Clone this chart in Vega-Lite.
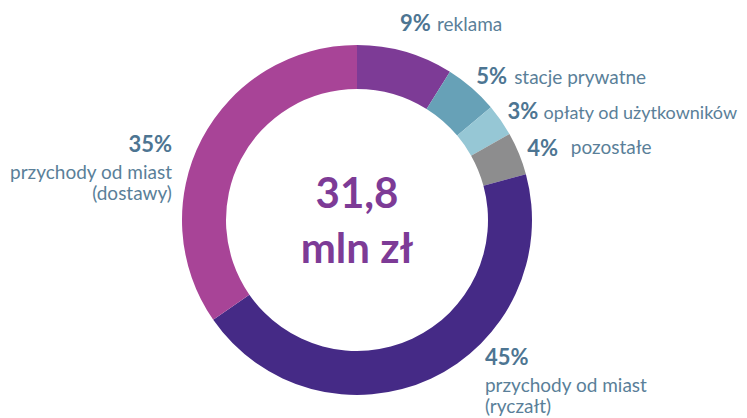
{
  "$schema": "https://vega.github.io/schema/vega-lite/v6.json",
  "autosize": "none",
  "width": 714,
  "height": 396,
  "padding": {"left": 0, "top": 22, "right": 33, "bottom": 0},
  "background": "white",
  "config": {"view": {"stroke": null}},
  "data": {
    "values": [
      {"i": 1, "k": "reklama", "v": 9, "pct": "9%", "label": "reklama"},
      {"i": 2, "k": "stacje prywatne", "v": 5, "pct": "5%", "label": "stacje prywatne"},
      {"i": 3, "k": "opłaty od użytkowników", "v": 3, "pct": "3%", "label": "opłaty od użytkowników"},
      {"i": 4, "k": "pozostałe", "v": 4, "pct": "4%", "label": "pozostałe"},
      {"i": 5, "k": "przychody od miast (ryczałt)", "v": 45, "pct": "45%", "label": "przychody od miast\n(ryczałt)"},
      {"i": 6, "k": "przychody od miast (dostawy)", "v": 35, "pct": "35%", "label": "przychody od miast\n(dostawy)"}
    ]
  },
  "layer": [
    {
      "mark": {"type": "arc", "outerRadius": 175, "innerRadius": 131, "stroke": null},
      "encoding": {
        "theta": {"field": "v", "type": "quantitative", "stack": true},
        "order": {"field": "i", "type": "quantitative"},
        "color": {
          "field": "k", "type": "nominal", "legend": null,
          "scale": {
            "domain": ["reklama", "stacje prywatne", "opłaty od użytkowników", "pozostałe", "przychody od miast (ryczałt)", "przychody od miast (dostawy)"],
            "range": ["#7D3B96", "#67A1B7", "#96C7D5", "#8D8D8E", "#452A86", "#A84497"]
          }
        }
      }
    },
    {
      "mark": {"type": "text", "radius": 190, "font": "Lato", "fontWeight": "bold", "fontSize": 22, "color": "#4D7592", "align": "left", "baseline": "alphabetic", "dx": -9.5, "dy": -6.4},
      "encoding": {
        "theta": {"field": "v", "type": "quantitative", "stack": true},
        "order": {"field": "i", "type": "quantitative"},
        "detail": {"field": "k"},
        "text": {"condition": {"test": "datum.k == 'reklama'", "field": "pct"}, "value": ""}
      }
    },
    {
      "mark": {"type": "text", "radius": 190, "font": "Lato", "fontSize": 19, "color": "#5A7F99", "align": "left", "baseline": "alphabetic", "dx": 27.5, "dy": -6.4},
      "encoding": {
        "theta": {"field": "v", "type": "quantitative", "stack": true},
        "order": {"field": "i", "type": "quantitative"},
        "detail": {"field": "k"},
        "text": {"condition": {"test": "datum.k == 'reklama'", "field": "label"}, "value": ""}
      }
    },
    {
      "mark": {"type": "text", "radius": 190, "font": "Lato", "fontWeight": "bold", "fontSize": 22, "color": "#4D7592", "align": "left", "baseline": "alphabetic", "dx": -5.5, "dy": 7.6},
      "encoding": {
        "theta": {"field": "v", "type": "quantitative", "stack": true},
        "order": {"field": "i", "type": "quantitative"},
        "detail": {"field": "k"},
        "text": {"condition": {"test": "datum.k == 'stacje prywatne' || datum.k == 'opłaty od użytkowników' || datum.k == 'pozostałe'", "field": "pct"}, "value": ""}
      }
    },
    {
      "mark": {"type": "text", "radius": 190, "font": "Lato", "fontSize": 19, "color": "#5A7F99", "align": "left", "baseline": "alphabetic", "dx": 32.5, "dy": 7.6},
      "encoding": {
        "theta": {"field": "v", "type": "quantitative", "stack": true},
        "order": {"field": "i", "type": "quantitative"},
        "detail": {"field": "k"},
        "text": {"condition": {"test": "datum.k == 'stacje prywatne'", "field": "label"}, "value": ""}
      }
    },
    {
      "mark": {"type": "text", "radius": 190, "font": "Lato", "fontSize": 18, "color": "#5A7F99", "align": "left", "baseline": "alphabetic", "dx": 30.5, "dy": 7.6},
      "encoding": {
        "theta": {"field": "v", "type": "quantitative", "stack": true},
        "order": {"field": "i", "type": "quantitative"},
        "detail": {"field": "k"},
        "text": {"condition": {"test": "datum.k == 'opłaty od użytkowników'", "field": "label"}, "value": ""}
      }
    },
    {
      "mark": {"type": "text", "radius": 190, "font": "Lato", "fontSize": 19, "color": "#5A7F99", "align": "left", "baseline": "alphabetic", "dx": 38, "dy": 6},
      "encoding": {
        "theta": {"field": "v", "type": "quantitative", "stack": true},
        "order": {"field": "i", "type": "quantitative"},
        "detail": {"field": "k"},
        "text": {"condition": {"test": "datum.k == 'pozostałe'", "field": "label"}, "value": ""}
      }
    },
    {
      "mark": {"type": "text", "radius": 190, "font": "Lato", "fontWeight": "bold", "fontSize": 22, "color": "#4D7592", "align": "left", "baseline": "alphabetic", "dx": 47.8, "dy": -27},
      "encoding": {
        "theta": {"field": "v", "type": "quantitative", "stack": true},
        "order": {"field": "i", "type": "quantitative"},
        "detail": {"field": "k"},
        "text": {"condition": {"test": "datum.k == 'przychody od miast (ryczałt)'", "field": "pct"}, "value": ""}
      }
    },
    {
      "mark": {"type": "text", "radius": 190, "font": "Lato", "fontSize": 19, "color": "#5A7F99", "align": "left", "baseline": "top", "lineBreak": "\n", "lineHeight": 21, "dx": 47.8, "dy": -15.2},
      "encoding": {
        "theta": {"field": "v", "type": "quantitative", "stack": true},
        "order": {"field": "i", "type": "quantitative"},
        "detail": {"field": "k"},
        "text": {"condition": {"test": "datum.k == 'przychody od miast (ryczałt)'", "field": "label"}, "value": ""}
      }
    },
    {
      "mark": {"type": "text", "radius": 190, "font": "Lato", "fontWeight": "bold", "fontSize": 22, "color": "#4D7592", "align": "right", "baseline": "alphabetic", "dx": -16.7, "dy": 20},
      "encoding": {
        "theta": {"field": "v", "type": "quantitative", "stack": true},
        "order": {"field": "i", "type": "quantitative"},
        "detail": {"field": "k"},
        "text": {"condition": {"test": "datum.k == 'przychody od miast (dostawy)'", "field": "pct"}, "value": ""}
      }
    },
    {
      "mark": {"type": "text", "radius": 190, "font": "Lato", "fontSize": 19, "color": "#5A7F99", "align": "right", "baseline": "top", "lineBreak": "\n", "lineHeight": 21, "dx": -16.7, "dy": 32.5},
      "encoding": {
        "theta": {"field": "v", "type": "quantitative", "stack": true},
        "order": {"field": "i", "type": "quantitative"},
        "detail": {"field": "k"},
        "text": {"condition": {"test": "datum.k == 'przychody od miast (dostawy)'", "field": "label"}, "value": ""}
      }
    },
    {
      "data": {"values": [{"t": "31,8\nmln zł"}]},
      "mark": {"type": "text", "font": "Lato", "fontWeight": "bold", "fontSize": 42, "color": "#7D3B96", "align": "center", "baseline": "top", "lineBreak": "\n", "lineHeight": 55, "dy": -45},
      "encoding": {
        "text": {"field": "t"}
      }
    }
  ]
}
